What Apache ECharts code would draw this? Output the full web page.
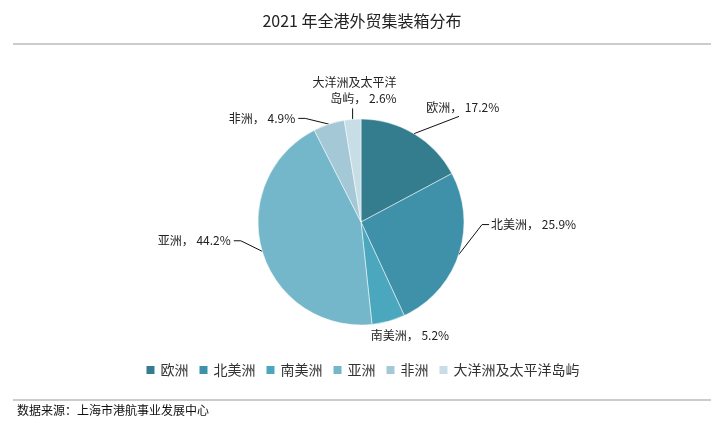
<!DOCTYPE html>
<html>
<head>
<meta charset="utf-8">
<script src="https://cdn.jsdelivr.net/npm/echarts@6/dist/echarts.min.js"></script>
<style>
html,body{margin:0;padding:0;background:#fff;}
#c{width:724px;height:432px;}
</style>
</head>
<body>
<div id="c"></div>
<script>
var titleText = '2021 年全港外贸集装箱分布';
var sourceText = '数据来源：上海市港航事业发展中心';
var categories = ['欧洲', '北美洲', '南美洲', '亚洲', '非洲', '大洋洲及太平洋岛屿'];
var values = [17.2, 25.9, 5.2, 44.2, 4.9, 2.6];
var colors = ['#347d8e', '#3f91aa', '#4aa7be', '#74b7ca', '#a4c8d6', '#c8dee6'];
var labelShift = [[-11, -16], [4, -34], [-38, 3], [-8, -14], [20, -15], [62, -17]];

var font = '"Noto Sans CJK SC", "Noto Sans", sans-serif';
var chart = echarts.init(document.getElementById('c'));
chart.setOption({
  backgroundColor: '#fff',
  color: colors,
  textStyle: {fontFamily: font},
  title: {
    text: titleText, left: 'center', top: 8,
    textStyle: {fontSize: 16, fontWeight: 'normal', color: '#222', fontFamily: font}
  },
  graphic: [
    {type: 'line', shape: {x1: 13, y1: 44, x2: 711, y2: 44}, style: {stroke: '#999', lineWidth: 1}},
    {type: 'line', shape: {x1: 13, y1: 400, x2: 711, y2: 400}, style: {stroke: '#999', lineWidth: 1}},
    {type: 'text', left: 17, top: 404, style: {text: sourceText, font: '12px ' + font, fill: '#111'}}
  ],
  legend: {
    data: categories, bottom: 50, left: 'center',
    icon: 'rect', itemWidth: 10, itemHeight: 10, itemGap: 9,
    textStyle: {fontSize: 14, color: '#333', fontFamily: font}
  },
  series: [{
    type: 'pie',
    center: [361, 222],
    radius: [0, 103],
    startAngle: 90,
    clockwise: true,
    data: categories.map(function (n, i) {
      var d = {name: n, value: values[i]};
      if (i === 2) d.labelLine = {show: false};
      return d;
    }),
    itemStyle: {borderColor: '#fff', borderWidth: 0.5},
    label: {
      formatter: function (p) {
        var n = p.name === '大洋洲及太平洋岛屿' ? '大洋洲及太平洋\n岛屿' : p.name;
        return n + '， ' + p.value.toFixed(1) + '%';
      },
      fontSize: 12, color: '#222', fontFamily: font, lineHeight: 16
    },
    labelLine: {length: 12, length2: 12, lineStyle: {color: '#111', width: 1}},
    labelLayout: function (p) {
      var s = labelShift[p.dataIndex];
      var r = p.labelRect;
      var x = r.x + s[0], y = r.y + s[1], w = r.width, h = r.height;
      var pts = p.labelLinePoints;
      var edge = pts ? pts[0] : null;
      var out = {dx: s[0], dy: s[1]};
      if (edge) {
        var end, mid;
        if (p.dataIndex === 5) {
          end = [x + w / 2 - 2, y + h + 2];
          mid = end;
        } else if (edge[0] >= 361) {
          if (p.dataIndex === 0) {
            end = [x + w * 0.45, y + h + 1];
            mid = end;
          } else {
            end = [x - 2, y + h / 2];
            mid = [end[0] - 7, end[1]];
          }
        } else {
          end = [x + w + 3, y + h / 2];
          mid = [end[0] + 7, end[1]];
        }
        out.labelLinePoints = [edge, mid, end];
      }
      return out;
    },
    emphasis: {disabled: true}
  }]
});
</script>
</body>
</html>
